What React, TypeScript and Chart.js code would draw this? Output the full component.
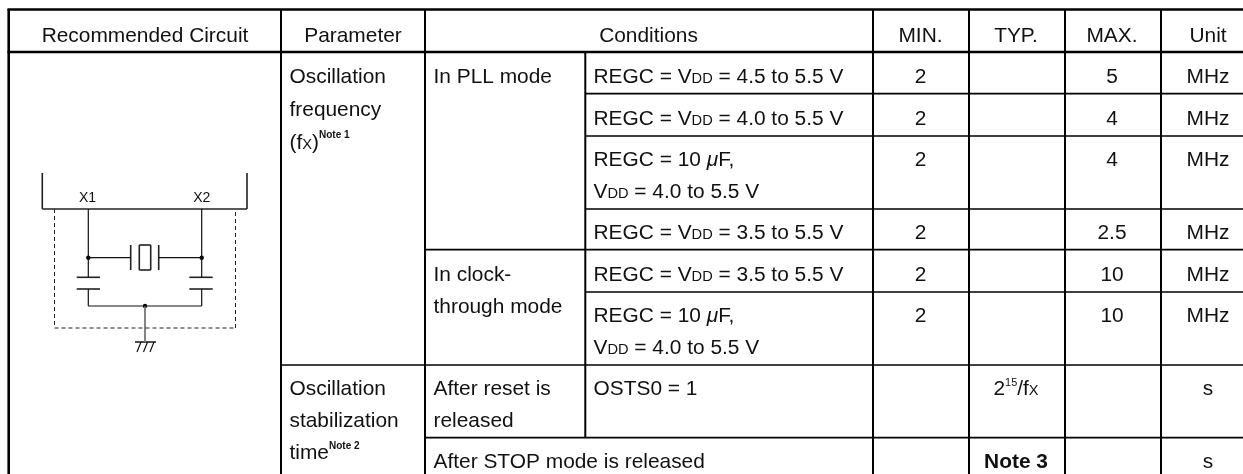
import React, { useEffect, useRef } from "react";
import { Chart, registerables } from "chart.js";

Chart.register(...registerables);

// ---- Table content. Markup: ~small~  ^superscript^  %bold superscript%  *italic*  #bold#
const headerLabels = ["Recommended Circuit", "Parameter", "Conditions", "MIN.", "TYP.", "MAX.", "Unit"];
const parameterLabels = ["Oscillation", "frequency", "(f~X~)%Note 1%", "Oscillation", "stabilization", "time%Note 2%"];
const modeLabels = ["In PLL mode", "In clock-", "through mode", "After reset is", "released", "After STOP mode is released"];
const conditionLabels = [
  "REGC = V~DD~ = 4.5 to 5.5 V",
  "REGC = V~DD~ = 4.0 to 5.5 V",
  "REGC = 10 *μ*F,",
  "V~DD~ = 4.0 to 5.5 V",
  "REGC = V~DD~ = 3.5 to 5.5 V",
  "REGC = V~DD~ = 3.5 to 5.5 V",
  "REGC = 10 *μ*F,",
  "V~DD~ = 4.0 to 5.5 V",
  "OSTS0 = 1",
];
const minValues = ["2", "2", "2", "2", "2", "2"];
const typValues = ["2^15^/f~X~", "#Note 3#"];
const maxValues = ["5", "4", "4", "2.5", "10", "10"];
const unitValues = ["MHz", "MHz", "MHz", "MHz", "MHz", "MHz", "s", "s"];
const pinLabels = ["X1", "X2"];

// ---- Layout, in the units of the two hidden linear scales
const SCALE_W = 1243;
const SCALE_H = 474;
const headerCentres = [145, 353, 648.5, 920.5, 1016, 1112, 1208];
const headerBaseline = 41.5;
const parameterX = 289.5;
const parameterBaselines = [83, 116, 148.5, 395, 427, 459];
const modeX = 433.5;
const modeBaselines = [83, 281, 313, 395, 427, 468];
const conditionX = 593.5;
const conditionBaselines = [83, 125, 166, 198, 239, 281, 322, 354, 395];
const minBaselines = [83, 125, 166, 239, 281, 322];
const maxBaselines = [83, 125, 166, 239, 281, 322];
const unitBaselines = [83, 125, 166, 239, 281, 322, 395, 468];
const typBaselines = [395, 468];
const pinCentres = [87.5, 201.7];
const pinBaseline = 202;

type Seg = number[];
const heavyRules: Seg[] = [
  [7.5, 9.5, 1243, 9.5],
  [7.5, 52, 1243, 52],
  [8.7, 9, 8.7, 474],
];
const columnRules: Seg[] = [
  [281, 9, 281, 474],
  [425, 9, 425, 474],
  [585.3, 52, 585.3, 437.5],
  [873, 9, 873, 474],
  [969, 9, 969, 474],
  [1065, 9, 1065, 474],
  [1161, 9, 1161, 474],
];
const rowRules: Seg[] = [
  [585, 93.7, 1243, 93.7],
  [585, 136, 1243, 136],
  [585, 209, 1243, 209],
  [425, 249.7, 1243, 249.7],
  [585, 292, 1243, 292],
  [281, 365, 1243, 365],
  [425, 437.7, 1243, 437.7],
];
const circuitBold: Seg[] = [
  [42.3, 173, 42.3, 209],
  [42.3, 209, 247, 209],
  [247, 173, 247, 209],
  [76.7, 277.3, 100, 277.3],
  [76.7, 289, 100, 289],
  [189.3, 277.3, 212.7, 277.3],
  [189.3, 289, 212.7, 289],
  [130.7, 245, 130.7, 270],
  [158.7, 245, 158.7, 270],
  [139.3, 245, 150.7, 245],
  [150.7, 245, 150.7, 270],
  [150.7, 270, 139.3, 270],
  [139.3, 270, 139.3, 245],
  [135, 342, 156, 342],
];
const circuitWires: Seg[] = [
  [88.3, 209, 88.3, 277.3],
  [201.7, 209, 201.7, 277.3],
  [88.3, 257.7, 130.7, 257.7],
  [158.7, 257.7, 201.7, 257.7],
  [88.3, 289, 88.3, 306],
  [201.7, 289, 201.7, 306],
  [88.3, 306, 201.7, 306],
  [141, 342, 137, 352],
  [147.5, 342, 143.5, 352],
  [154, 342, 150, 352],
];
const groundLead: Seg[] = [[145, 306, 145, 342]];
const dashedBox: Seg[] = [
  [54.5, 209, 54.5, 328],
  [54.5, 328, 235.5, 328],
  [235.5, 328, 235.5, 209],
];
const junctions = [
  { x: 88.3, y: 257.7 },
  { x: 201.7, y: 257.7 },
  { x: 145, y: 306 },
];

const FAMILY = '"Liberation Sans", Arial, sans-serif';
const BASE = 20.9;

type Run = { t: string; font: string; rise: number };
function parseRuns(s: string, size: number): Run[] {
  const parts = s.split(/(~[^~]+~|\^[^^]+\^|%[^%]+%|\*[^*]+\*|#[^#]+#)/).filter(Boolean);
  return parts.map((p) => {
    const inner = p.slice(1, -1);
    switch (p[0]) {
      case "~":
        return { t: inner, font: `${size * 0.7}px ${FAMILY}`, rise: 0 };
      case "^":
        return { t: inner, font: `${size * 0.52}px ${FAMILY}`, rise: size * 0.42 };
      case "%":
        return { t: inner, font: `bold ${size * 0.48}px ${FAMILY}`, rise: size * 0.5 };
      case "*":
        return { t: inner, font: `italic ${size}px ${FAMILY}`, rise: 0 };
      case "#":
        return { t: inner, font: `bold ${size}px ${FAMILY}`, rise: 0 };
      default:
        return { t: p, font: `${size}px ${FAMILY}`, rise: 0 };
    }
  });
}

function drawText(
  ctx: CanvasRenderingContext2D,
  s: string,
  x: number,
  y: number,
  align: "left" | "center",
  size = BASE
) {
  const runs = parseRuns(s, size);
  let total = 0;
  for (const r of runs) {
    ctx.font = r.font;
    total += ctx.measureText(r.t).width;
  }
  let cx = align === "center" ? x - total / 2 : x;
  for (const r of runs) {
    ctx.font = r.font;
    ctx.fillText(r.t, cx, y - r.rise);
    cx += ctx.measureText(r.t).width;
  }
}

const tablePlugin = {
  id: "tableText",
  afterDatasetsDraw(chart: any) {
    const { ctx, scales } = chart;
    const px = (v: number) => scales.x.getPixelForValue(v);
    const py = (v: number) => scales.y.getPixelForValue(v);
    ctx.save();
    ctx.fillStyle = "#111";
    ctx.textAlign = "left";
    ctx.textBaseline = "alphabetic";
    headerLabels.forEach((l, i) => drawText(ctx, l, px(headerCentres[i]), py(headerBaseline), "center"));
    parameterLabels.forEach((l, i) => drawText(ctx, l, px(parameterX), py(parameterBaselines[i]), "left"));
    modeLabels.forEach((l, i) => drawText(ctx, l, px(modeX), py(modeBaselines[i]), "left"));
    conditionLabels.forEach((l, i) => drawText(ctx, l, px(conditionX), py(conditionBaselines[i]), "left"));
    minValues.forEach((l, i) => drawText(ctx, l, px(headerCentres[3]), py(minBaselines[i]), "center"));
    typValues.forEach((l, i) => drawText(ctx, l, px(headerCentres[4]), py(typBaselines[i]), "center"));
    maxValues.forEach((l, i) => drawText(ctx, l, px(headerCentres[5]), py(maxBaselines[i]), "center"));
    unitValues.forEach((l, i) => drawText(ctx, l, px(headerCentres[6]), py(unitBaselines[i]), "center"));
    pinLabels.forEach((l, i) => drawText(ctx, l, px(pinCentres[i]), py(pinBaseline), "center", 14));
    ctx.restore();
  },
};

function segSets(segs: Seg[], color: string, width: number, dash: number[] = []) {
  return segs.map((s) => ({
    data: [
      { x: s[0], y: s[1] },
      { x: s[2], y: s[3] },
    ],
    showLine: true,
    borderColor: color,
    borderWidth: width,
    borderDash: dash,
    pointRadius: 0,
    pointHoverRadius: 0,
    fill: false,
    tension: 0,
    clip: false,
  }));
}

export default function App() {
  const ref = useRef<HTMLCanvasElement>(null);
  useEffect(() => {
    const chart = new Chart(ref.current as HTMLCanvasElement, {
      type: "scatter",
      data: {
        datasets: [
          ...segSets(heavyRules, "#000", 2.6),
          ...segSets(columnRules, "#000", 2),
          ...segSets(rowRules, "#000", 1.7),
          ...segSets(dashedBox, "#222", 1, [4, 3]),
          ...segSets(circuitWires, "#111", 1.2),
          ...segSets(groundLead, "#777", 1.8),
          ...segSets(circuitBold, "#222", 1.6),
          {
            data: junctions,
            showLine: false,
            pointRadius: 2.2,
            pointBackgroundColor: "#000",
            pointBorderWidth: 0,
            clip: false,
          },
        ] as any,
      },
      options: {
        animation: false,
        responsive: false,
        layout: { padding: 0, autoPadding: false },
        events: [],
        plugins: { legend: { display: false }, tooltip: { enabled: false }, title: { display: false } },
        scales: {
          x: { type: "linear", min: 0, max: SCALE_W, display: false },
          y: { type: "linear", min: 0, max: SCALE_H, reverse: true, display: false },
        },
      },
      plugins: [tablePlugin],
    });
    return () => chart.destroy();
  }, []);
  return (
    <canvas
      ref={ref}
      width={1243}
      height={474}
      style={{ position: "fixed", left: 0, top: 0, width: 1243, height: 474, display: "block", background: "#fff" }}
    />
  );
}
